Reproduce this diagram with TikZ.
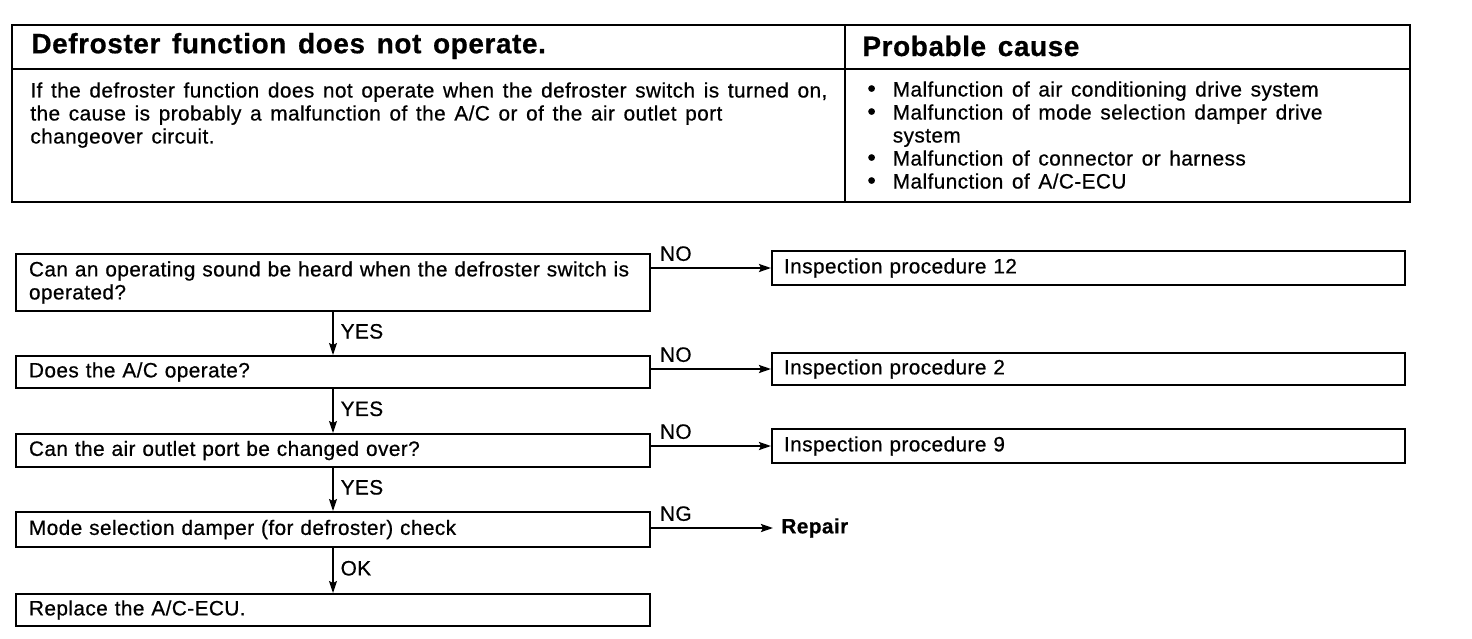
\documentclass[tikz,border=0pt]{standalone}
\usepackage{fontspec}
\setmainfont{Liberation Sans}[LetterSpace=2.0, WordSpace=1.4, FakeBold=0.6]
\usetikzlibrary{arrows.meta}

\newcommand{\causeDot}{\fontsize{12}{11.5}\selectfont\textbullet}

\begin{document}
\begin{tikzpicture}[x=0.5pt, y=-0.5pt,
    every node/.style={font=\fontsize{10.4}{11.5}\selectfont, inner sep=0pt},
    headText/.style={anchor=west, font=\fontsize{14}{16}\selectfont\bfseries},
    qBox/.style={draw, line width=1pt, anchor=north west, text width=304pt,
        inner xsep=6.5pt, align=left},
    pBox/.style={draw, line width=1pt, anchor=north west, text width=304.5pt,
        inner xsep=6pt, align=left},
    flowArrow/.style={line width=1pt, -{Stealth[length=6pt,width=4pt,inset=1pt]}},
    downArrow/.style={flowArrow, line width=0.7pt},
    noLabel/.style={pos=0, anchor=south west, xshift=4pt, yshift=3pt},
    yesLabel/.style={pos=0.45, anchor=west, xshift=3.5pt}]

    \useasboundingbox (0,0) rectangle (1472,638);

    % Table frame
    \draw[line width=1.2pt] (12,25) rectangle (1410,202);
    \draw[line width=1pt] (12,69) -- (1410,69);
    \draw[line width=1pt] (845,25) -- (845,202);

    % Table texts
    \node[headText] (title) at (31,46) {Defroster function does not operate.};
    \node[headText] (cause) at (862,46) {Probable cause};
    \node[anchor=north west, align=left] (desc) at (30,82)
        {If the defroster function does not operate when the defroster switch is turned on,\\
         the cause is probably a malfunction of the A/C or of the air outlet port\\
         changeover circuit.};
    \node[anchor=north west] (causeList) at (867,80)
        {\begin{tabular}{@{}l@{\hspace{8.5pt}}l@{}}
         \causeDot & Malfunction of air conditioning drive system\\
         \causeDot & Malfunction of mode selection damper drive\\
                   & system\\
         \causeDot & Malfunction of connector or harness\\
         \causeDot & Malfunction of A/C-ECU
         \end{tabular}};

    % Check steps
    \node[qBox, minimum height=28.5pt] (q1) at (15,253)
        {Can an operating sound be heard when the defroster switch is\\ operated?};
    \node[qBox, minimum height=16pt] (q2) at (15,355) {Does the A/C operate?};
    \node[qBox, minimum height=16.5pt] (q3) at (15,433) {Can the air outlet port be changed over?};
    \node[qBox, minimum height=17.5pt] (q4) at (15,511) {Mode selection damper (for defroster) check};
    \node[qBox, minimum height=16pt] (q5) at (15,593) {Replace the A/C-ECU.};

    % Results
    \node[pBox, minimum height=17pt] (p12) at (771,250) {Inspection procedure 12};
    \node[pBox, minimum height=16pt] (p2) at (771,352) {Inspection procedure 2};
    \node[pBox, minimum height=17pt] (p9) at (771,428) {Inspection procedure 9};
    \node[anchor=west, inner xsep=4pt, font=\fontsize{10.4}{11.5}\selectfont\bfseries]
        (repair) at (773,528) {Repair};

    % NO / NG branches
    \draw[flowArrow] (p12.west -| q1.east) -- node[noLabel] {NO} (p12.west);
    \draw[flowArrow] (p2.west -| q2.east) -- node[noLabel] {NO} (p2.west);
    \draw[flowArrow] (p9.west -| q3.east) -- node[noLabel] {NO} (p9.west);
    \draw[flowArrow] (repair.west -| q4.east) -- node[noLabel] {NG} (repair.west);

    % YES / OK branches
    \draw[downArrow] (q1.south) -- node[yesLabel] {YES} (q2.north);
    \draw[downArrow] (q2.south) -- node[yesLabel] {YES} (q3.north);
    \draw[downArrow] (q3.south) -- node[yesLabel] {YES} (q4.north);
    \draw[downArrow] (q4.south) -- node[yesLabel] {OK} (q5.north);

\end{tikzpicture}
\end{document}
